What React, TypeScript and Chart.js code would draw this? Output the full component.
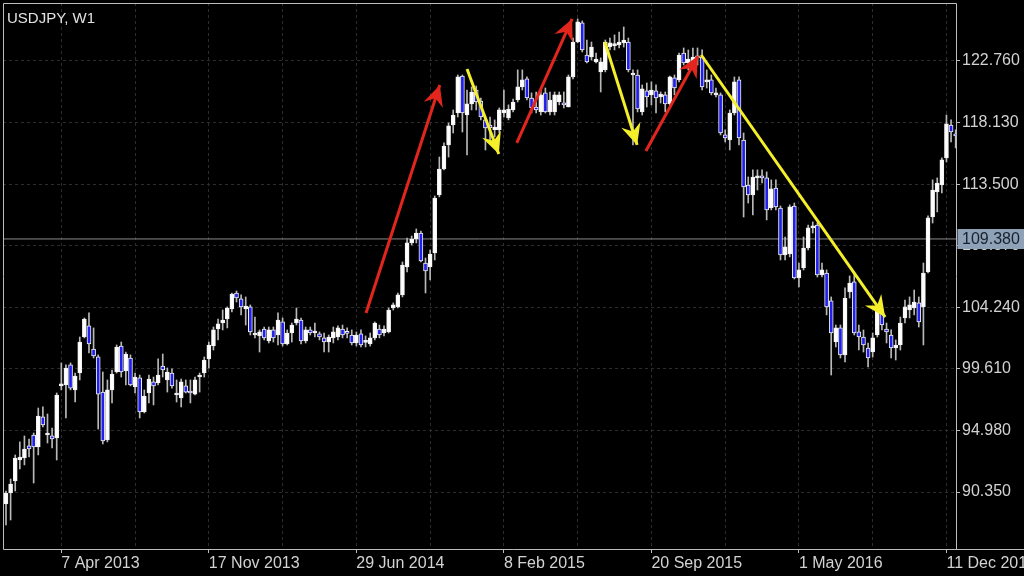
import { useEffect, useRef } from 'react';
import { Chart, registerables } from 'chart.js';

Chart.register(...registerables);

const TITLE = 'USDJPY, W1';

const OPEN = [
  89.45, 90.28, 91.18, 92.76, 92.91, 93.82, 94.64, 93.74, 96.0, 94.64,
  94.57, 94.42, 98.33, 98.4, 99.91, 98.03, 99.3, 102.01, 102.84, 101.11,
  100.51, 97.87, 94.27, 98.03, 99.38, 101.33, 99.46, 100.43, 98.25, 98.93,
  96.37, 97.8, 98.63, 98.55, 99.83, 98.78, 99.3, 97.65, 97.42, 98.33,
  97.95, 97.72, 99.0, 99.3, 100.36, 101.33, 102.61, 103.06, 103.36, 104.12,
  105.32, 104.87, 104.12, 104.27, 102.16, 102.09, 102.61, 101.71, 102.54, 102.16,
  103.14, 101.48, 102.31, 103.06, 103.29, 101.71, 102.54, 102.31, 102.24, 101.94,
  101.63, 101.94, 102.01, 102.61, 102.35, 102.16, 101.56, 102.24, 101.6, 101.48,
  101.94, 102.61, 102.31, 102.39, 104.19, 104.27, 105.17, 107.27, 109.08, 109.38,
  109.83, 107.57, 107.27, 108.33, 112.69, 114.64, 116.45, 117.95, 118.85, 121.63,
  118.7, 119.53, 120.58, 119.75, 118.33, 117.95, 117.6, 117.58, 118.85, 118.48,
  119.08, 119.83, 120.81, 121.41, 119.98, 119.3, 118.93, 120.36, 118.93, 118.93,
  119.68, 119.6, 119.3, 121.56, 124.19, 125.62, 123.21, 123.06, 122.69, 121.94,
  122.09, 123.81, 123.92, 123.97, 124.12, 124.19, 121.71, 121.71, 118.93, 120.51,
  120.21, 120.51, 120.06, 120.21, 119.53, 121.49, 121.34, 123.36, 122.61, 122.69,
  122.99, 123.06, 121.19, 121.34, 120.21, 120.21, 117.2, 116.82, 118.85, 121.34,
  116.82, 113.44, 112.69, 113.97, 114.04, 113.97, 111.71, 113.21, 111.71, 108.18,
  108.25, 111.86, 106.45, 107.2, 108.7, 110.21, 110.43, 106.67, 106.82, 104.72,
  101.63, 102.69, 100.66, 105.39, 106.15, 102.39, 102.01, 101.18, 100.88, 102.16,
  103.82, 102.61, 102.16, 101.18, 101.41, 103.44, 104.04, 104.19, 104.57, 104.27,
  106.9, 111.03, 112.91, 113.44, 115.47, 117.95, 117.2,
];

const HIGH = [
  90.43, 91.33, 93.14, 94.12, 94.57, 94.34, 94.79, 96.67, 96.75, 96.22,
  95.17, 97.8, 100.06, 99.91, 100.06, 99.3, 102.01, 103.44, 103.82, 102.69,
  100.66, 99.38, 98.78, 99.53, 101.41, 101.63, 100.88, 100.66, 99.3, 99.15,
  98.03, 99.15, 99.0, 100.36, 100.73, 99.68, 99.61, 98.78, 98.85, 98.78,
  98.78, 99.0, 99.3, 100.51, 101.63, 102.76, 103.36, 104.04, 104.27, 105.32,
  105.47, 105.17, 105.02, 104.42, 103.51, 102.54, 102.76, 102.76, 102.76, 103.82,
  103.44, 102.54, 103.06, 104.19, 103.44, 102.76, 102.76, 103.06, 102.39, 102.31,
  102.16, 102.76, 102.84, 102.91, 102.69, 102.54, 102.39, 102.54, 102.09, 102.31,
  103.14, 102.91, 102.84, 104.19, 104.57, 105.32, 107.65, 109.45, 109.6, 110.13,
  109.98, 107.95, 108.55, 112.61, 115.54, 116.6, 118.1, 119.08, 121.71, 121.71,
  120.58, 120.81, 120.88, 119.98, 118.55, 118.55, 118.33, 119.23, 120.58, 119.46,
  119.9, 122.09, 122.09, 121.56, 120.36, 120.43, 120.58, 120.73, 120.43, 120.43,
  120.43, 120.43, 121.71, 124.49, 125.92, 125.77, 124.34, 124.19, 123.36, 122.99,
  124.34, 124.49, 124.72, 124.94, 125.32, 124.49, 122.09, 122.09, 120.96, 121.11,
  121.19, 120.96, 120.43, 120.43, 121.63, 121.71, 123.36, 123.74, 123.59, 123.74,
  123.74, 123.59, 122.09, 121.71, 120.73, 120.36, 117.58, 119.08, 121.56, 121.56,
  117.35, 114.04, 114.57, 114.57, 114.57, 114.42, 113.82, 113.82, 111.86, 109.53,
  111.94, 112.08, 107.57, 109.53, 110.43, 110.66, 110.58, 107.57, 107.05, 105.02,
  102.91, 102.91, 105.7, 106.6, 106.9, 102.91, 102.54, 101.56, 102.31, 104.27,
  104.42, 103.06, 102.54, 101.79, 103.51, 104.79, 105.02, 105.54, 105.02, 107.57,
  111.11, 113.82, 113.97, 115.47, 118.7, 118.33, 117.58,
];

const LOW = [
  87.88, 88.25, 90.43, 92.09, 92.39, 92.99, 91.03, 93.14, 95.24, 94.04,
  93.67, 92.76, 98.03, 95.92, 98.03, 97.12, 98.78, 101.94, 100.81, 100.43,
  95.09, 93.97, 94.12, 97.05, 99.3, 99.0, 98.4, 98.33, 97.8, 95.92,
  96.3, 97.05, 96.9, 98.4, 99.0, 97.87, 98.17, 97.12, 96.75, 97.8,
  97.05, 97.65, 97.87, 99.0, 99.68, 101.03, 101.79, 102.54, 102.69, 103.89,
  104.64, 103.67, 102.91, 102.16, 101.94, 100.88, 101.79, 101.56, 101.63, 101.41,
  101.33, 101.41, 101.63, 102.91, 101.48, 101.56, 102.16, 102.01, 101.79, 100.88,
  100.88, 101.56, 101.79, 101.94, 101.94, 101.41, 101.33, 101.26, 101.26, 101.33,
  101.79, 101.94, 102.09, 102.31, 104.04, 104.19, 105.02, 106.9, 108.93, 109.08,
  107.65, 105.32, 106.3, 107.8, 112.54, 114.57, 115.54, 117.35, 118.55, 117.42,
  115.7, 119.08, 119.08, 118.33, 116.07, 116.6, 117.05, 117.35, 118.55, 118.33,
  118.93, 119.68, 120.58, 119.83, 118.85, 118.85, 118.7, 118.85, 118.7, 118.7,
  119.46, 119.23, 119.3, 121.41, 124.12, 123.44, 122.61, 122.84, 122.61, 120.43,
  121.94, 123.59, 123.59, 123.74, 123.81, 121.94, 116.45, 118.93, 118.7, 119.3,
  119.46, 118.85, 119.6, 118.93, 119.3, 120.21, 121.19, 122.46, 122.09, 122.24,
  122.46, 120.58, 120.73, 120.21, 120.06, 117.2, 116.67, 116.07, 118.7, 116.45,
  111.03, 112.08, 111.18, 113.06, 113.59, 110.81, 111.56, 111.56, 107.8, 107.8,
  108.03, 106.37, 105.77, 107.05, 108.55, 109.83, 106.52, 106.52, 103.67, 99.15,
  101.26, 100.43, 100.13, 104.94, 102.16, 101.03, 100.88, 99.76, 100.51, 102.01,
  102.54, 101.56, 100.43, 100.28, 101.03, 103.06, 103.44, 103.67, 102.76, 101.41,
  106.82, 110.58, 111.41, 112.84, 115.17, 116.67, 116.22,
];

const CLOSE = [
  90.28, 90.96, 92.91, 92.99, 93.59, 93.59, 93.74, 96.07, 95.4, 94.7,
  94.34, 97.65, 98.48, 99.68, 98.17, 99.08, 101.63, 103.36, 101.48, 100.58,
  97.72, 94.19, 98.03, 99.23, 101.26, 99.38, 100.73, 98.4, 99.0, 96.37,
  97.57, 98.85, 98.33, 99.15, 99.53, 99.38, 98.33, 97.7, 98.63, 97.87,
  97.8, 98.78, 99.08, 100.28, 101.41, 102.54, 102.99, 103.29, 104.19, 105.24,
  104.94, 104.27, 104.34, 102.39, 102.31, 102.39, 101.94, 102.54, 101.94, 103.29,
  101.48, 102.31, 102.91, 103.36, 101.71, 102.54, 102.31, 102.39, 102.01, 101.63,
  102.01, 102.39, 102.69, 102.16, 102.28, 101.56, 102.16, 101.41, 101.66, 101.94,
  103.06, 102.16, 102.61, 104.04, 104.42, 105.17, 107.42, 109.08, 109.38, 109.83,
  107.73, 106.97, 108.25, 112.46, 114.64, 116.37, 117.88, 118.7, 121.56, 118.85,
  119.53, 120.43, 119.68, 118.55, 117.73, 117.73, 117.8, 119.08, 119.08, 119.15,
  119.68, 120.81, 121.34, 119.98, 119.23, 119.08, 120.21, 118.93, 119.83, 120.21,
  120.21, 119.46, 121.56, 124.19, 125.7, 123.59, 122.69, 123.81, 122.91, 122.69,
  124.19, 124.12, 123.97, 124.19, 124.34, 122.09, 121.86, 119.15, 120.66, 120.06,
  120.58, 119.98, 120.28, 119.53, 121.56, 120.73, 123.21, 122.61, 122.91, 123.06,
  123.06, 120.81, 121.34, 120.36, 120.36, 117.35, 116.97, 118.85, 121.19, 116.97,
  113.29, 112.69, 114.04, 114.04, 113.97, 111.56, 113.14, 111.79, 108.18, 108.78,
  111.79, 106.45, 107.05, 108.7, 110.21, 110.28, 106.67, 107.05, 104.27, 102.31,
  102.69, 100.66, 104.94, 106.07, 102.31, 102.01, 101.41, 100.43, 101.94, 104.04,
  102.91, 102.39, 101.18, 101.41, 103.06, 104.27, 104.42, 104.64, 103.14, 106.82,
  110.96, 113.06, 113.59, 115.32, 118.03, 117.42, 117.13,
];

// price axis
const Y_TICKS = [90.35, 94.98, 99.61, 104.24, 108.87, 113.5, 118.13, 122.76];
const Y_MIN = 86.07;
const Y_MAX = 127.12;
const LAST_PRICE = 109.38;

// bar-index axis: visible window, grid every 16 bars, date label every 32 bars
const X_MIN = -0.65;
const X_MAX = 206.07;
const GRID_BARS = [12, 28, 44, 60, 76, 92, 108, 124, 140, 156, 172, 188, 204];
const DATE_LABELS = ['7 Apr 2013', '', '17 Nov 2013', '', '29 Jun 2014', '', '8 Feb 2015', '', '20 Sep 2015', '', '1 May 2016', '', '11 Dec 2016'];

// hand-drawn arrows (bar index, price)
const ARROW_X0 = [78.1, 110.8, 138.8, 100.0, 129.9, 150.8];
const ARROW_Y0 = [103.81, 116.6, 116.0, 122.16, 124.19, 123.21];
const ARROW_X1 = [94.1, 122.8, 150.1, 106.9, 136.9, 190.7];
const ARROW_Y1 = [120.96, 125.92, 123.14, 115.77, 116.45, 103.51];
const ARROW_COLORS = ['#e3261d', '#e3261d', '#e3261d', '#f4ef2a', '#f4ef2a', '#f4ef2a'];

const FONT = '"Liberation Sans", Arial, Helvetica, sans-serif';
const TEXT = '#d2d2d2';
const GRID = '#2c2c2c';
const FRAME = '#bdbdbd';

export default function App() {
  const ref = useRef<HTMLCanvasElement | null>(null);

  useEffect(() => {
    const canvas = ref.current;
    if (!canvas) return;
    const idx = OPEN.map((_, i) => i);
    const bodies = idx.map((i) => ({ x: i, y: [OPEN[i], CLOSE[i]] }));
    const wicks = idx.map((i) => ({ x: i, y: [LOW[i], HIGH[i]] }));
    const bodyColors = idx.map((i) => (CLOSE[i] >= OPEN[i] ? '#ffffff' : '#1f1ff0'));

    const arrowSets = ARROW_X0.map((x0, k) => ({
      type: 'line' as const,
      label: 'arrow' + k,
      data: [
        { x: x0, y: ARROW_Y0[k] },
        { x: ARROW_X1[k], y: ARROW_Y1[k] },
      ],
      borderColor: ARROW_COLORS[k],
      backgroundColor: ARROW_COLORS[k],
      borderWidth: 3,
      pointRadius: 0,
      order: 0,
      xAxisID: 'x',
      yAxisID: 'y',
    }));

    const overlay = {
      id: 'overlay',
      afterDatasetsDraw(chart: any) {
        const ctx = chart.ctx;
        chart.data.datasets.forEach((ds: any, di: number) => {
          if (!String(ds.label || '').startsWith('arrow')) return;
          const meta = chart.getDatasetMeta(di);
          const p0 = meta.data[0];
          const p1 = meta.data[1];
          const dx = p1.x - p0.x;
          const dy = p1.y - p0.y;
          const len = Math.hypot(dx, dy) || 1;
          const ux = dx / len;
          const uy = dy / len;
          const nx = -uy;
          const ny = ux;
          const L = 21;
          const W = 10;
          const N = 7;
          ctx.save();
          ctx.fillStyle = ds.borderColor;
          ctx.beginPath();
          ctx.moveTo(p1.x, p1.y);
          ctx.lineTo(p1.x - ux * L + nx * W, p1.y - uy * L + ny * W);
          ctx.lineTo(p1.x - ux * (L - N), p1.y - uy * (L - N));
          ctx.lineTo(p1.x - ux * L - nx * W, p1.y - uy * L - ny * W);
          ctx.closePath();
          ctx.fill();
          ctx.restore();
        });
      },
      afterDraw(chart: any) {
        const ctx = chart.ctx;
        const a = chart.chartArea;
        const l = Math.round(a.left) + 0.5;
        const t = Math.round(a.top) + 0.5;
        const r = Math.round(a.right) + 0.5;
        const b = Math.round(a.bottom) + 0.5;
        ctx.save();
        ctx.strokeStyle = FRAME;
        ctx.lineWidth = 1;
        ctx.beginPath();
        ctx.moveTo(l, b);
        ctx.lineTo(l, t);
        ctx.lineTo(r, t);
        ctx.lineTo(r, b);
        ctx.moveTo(l, b);
        ctx.lineTo(chart.width, b);
        ctx.stroke();

        // title
        ctx.fillStyle = '#e2e2e2';
        ctx.font = '15px ' + FONT;
        ctx.textBaseline = 'middle';
        ctx.textAlign = 'left';
        ctx.fillText(TITLE, a.left + 4, 19);

        // last price label
        const py = chart.scales.y.getPixelForValue(LAST_PRICE);
        ctx.fillStyle = '#8ea1b7';
        ctx.fillRect(r + 1, Math.round(py) - 10, chart.width - r - 1, 20);
        ctx.fillStyle = '#18212e';
        ctx.font = '16px ' + FONT;
        ctx.fillText(LAST_PRICE.toFixed(3), r + 5.5, py + 0.5);
        ctx.restore();
      },
    };

    const chart = new Chart(canvas, {
      type: 'bar',
      data: {
        datasets: [
          {
            type: 'bar',
            label: 'bodies',
            data: bodies as any,
            backgroundColor: bodyColors,
            borderColor: '#f2f2f2',
            borderWidth: 1,
            borderSkipped: false,
            barThickness: 4,
            minBarLength: 2,
            grouped: false,
            order: 1,
            xAxisID: 'x',
            yAxisID: 'y',
          },
          {
            type: 'bar',
            label: 'wicks',
            data: wicks as any,
            backgroundColor: '#b8b8b8',
            borderWidth: 0,
            barThickness: 1,
            grouped: false,
            order: 2,
            xAxisID: 'x',
            yAxisID: 'y',
          },
          {
            type: 'line',
            label: 'last',
            data: [
              { x: X_MIN, y: LAST_PRICE },
              { x: X_MAX, y: LAST_PRICE },
            ],
            borderColor: '#8a8a8a',
            borderWidth: 1,
            pointRadius: 0,
            order: 3,
            xAxisID: 'x',
            yAxisID: 'y',
          },
          ...arrowSets,
        ] as any,
      },
      options: {
        animation: false,
        responsive: true,
        maintainAspectRatio: false,
        devicePixelRatio: 1,
        events: [],
        layout: { padding: { left: 3, top: 3, right: 0, bottom: 0 } },
        plugins: { legend: { display: false }, tooltip: { enabled: false }, title: { display: false } },
        scales: {
          x: {
            type: 'linear',
            position: 'bottom',
            min: X_MIN,
            max: X_MAX,
            offset: false,
            afterBuildTicks: (s: any) => {
              s.ticks = GRID_BARS.map((v) => ({ value: v }));
            },
            afterFit: (s: any) => {
              s.height = 27;
              s.paddingLeft = 0;
              s.paddingRight = 0;
            },
            ticks: {
              display: true,
              align: 'start',
              autoSkip: false,
              maxRotation: 0,
              minRotation: 0,
              padding: 1,
              color: TEXT,
              font: { family: FONT, size: 16 },
              callback: (_v: any, i: number) => DATE_LABELS[i],
            },
            grid: {
              offset: false,
              color: GRID,
              lineWidth: 1,
              drawOnChartArea: true,
              drawTicks: true,
              tickLength: 4,
              tickWidth: 1,
              tickColor: (c: any) => (DATE_LABELS[c.index] ? FRAME : 'rgba(0,0,0,0)'),
            },
            border: { display: false, dash: [3, 3] },
          },
          y: {
            type: 'linear',
            position: 'right',
            min: Y_MIN,
            max: Y_MAX,
            beginAtZero: false,
            afterBuildTicks: (s: any) => {
              s.ticks = Y_TICKS.map((v) => ({ value: v }));
            },
            afterFit: (s: any) => {
              s.width = 68;
              s.paddingTop = 0;
              s.paddingBottom = 0;
            },
            ticks: {
              color: TEXT,
              padding: 2,
              font: { family: FONT, size: 16 },
              callback: (v: any) => Number(v).toFixed(3),
            },
            grid: { color: GRID, lineWidth: 1, drawTicks: true, tickLength: 4, tickColor: FRAME, tickWidth: 1 },
            border: { display: false, dash: [3, 3] },
          },
        },
      } as any,
      plugins: [overlay],
    });

    return () => chart.destroy();
  }, []);

  return (
    <div style={{ position: 'fixed', left: 0, top: 0, width: 1024, height: 576, background: '#000' }}>
      <canvas ref={ref} />
    </div>
  );
}
